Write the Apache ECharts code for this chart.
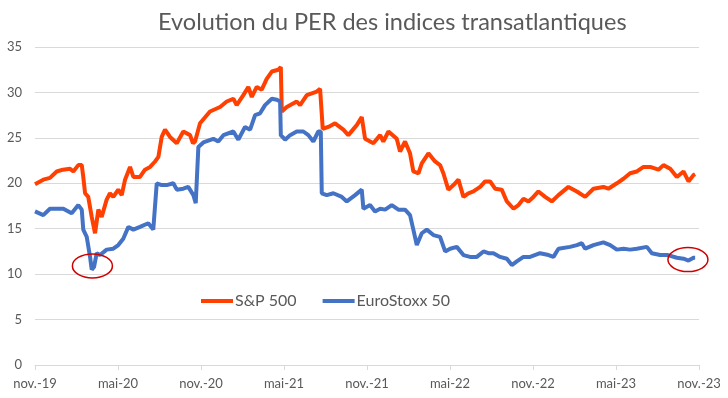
<!DOCTYPE html>
<html>
<head>
<meta charset="utf-8">
<script src="https://cdn.jsdelivr.net/npm/echarts@6/dist/echarts.min.js"></script>
<style>html,body{margin:0;padding:0;background:#fff}#c{width:728px;height:398px}</style>
</head>
<body>
<div id="c"></div>
<script>
// x tick labels every 6 months (x = months since 1 Nov 2019)
var xTickLabels = ['nov.-19','mai-20','nov.-20','mai-21','nov.-21','mai-22','nov.-22','mai-23','nov.-23'];

var spxMonths = [0.00,0.60,1.08,1.57,2.02,2.53,2.77,3.13,3.38,3.49,3.62,3.85,4.10,4.34,4.58,4.82,5.18,5.42,5.66,6.02,6.27,6.51,6.87,7.11,7.59,7.95,8.32,8.68,8.92,9.16,9.40,9.76,10.25,10.72,11.21,11.42,11.57,11.93,12.65,13.38,13.86,14.34,14.58,15.06,15.42,15.67,16.03,16.39,16.75,17.12,17.59,17.77,17.84,18.20,18.92,19.16,19.65,20.01,20.37,20.61,20.80,21.21,21.69,22.29,22.65,23.26,23.62,23.86,24.46,24.95,25.18,25.55,26.15,26.39,26.75,27.11,27.35,27.72,27.96,28.44,28.92,29.28,29.52,29.88,30.25,30.61,30.97,31.33,31.69,32.18,32.54,32.90,33.26,33.74,34.11,34.59,34.95,35.31,35.67,36.03,36.39,36.88,37.36,37.84,38.56,39.17,39.77,40.37,41.09,41.45,42.06,42.54,43.02,43.51,43.99,44.47,45.07,45.43,45.92,46.40,46.88,47.24,47.60,47.72];
var spxValues = [19.9,20.4,20.6,21.3,21.5,21.6,21.3,22.0,22.0,20.7,18.9,18.5,16.3,14.5,17.1,16.3,18.2,18.9,18.5,19.3,18.7,20.4,21.8,20.7,20.7,21.5,21.8,22.4,22.9,25.1,25.9,25.1,24.4,25.7,25.3,24.4,24.6,26.6,27.9,28.4,29.0,29.3,28.6,29.7,30.6,29.5,30.6,30.3,31.5,32.3,32.5,32.8,27.9,28.4,29.0,28.6,29.7,29.9,30.1,30.4,26.0,26.2,26.6,25.9,25.3,26.4,27.3,24.9,24.4,25.3,24.6,25.7,24.9,23.5,24.6,23.3,21.3,21.1,22.2,23.3,22.4,22.0,21.1,19.3,19.8,20.4,18.5,18.9,19.1,19.6,20.2,20.2,19.4,19.3,18.0,17.2,17.6,18.3,18.0,18.5,19.1,18.5,18.0,18.7,19.6,19.1,18.5,19.4,19.6,19.4,20.0,20.5,21.1,21.3,21.8,21.8,21.5,22.0,21.6,20.7,21.3,20.2,20.9,21.0];

var stoxxMonths = [0.00,0.60,1.08,2.05,2.65,3.13,3.38,3.49,3.74,3.98,4.10,4.27,4.46,4.70,5.18,5.66,6.02,6.38,6.75,7.11,7.59,8.19,8.55,8.80,9.16,9.52,10.00,10.25,10.72,11.08,11.45,11.62,11.81,12.17,12.89,13.25,13.62,14.34,14.70,15.18,15.55,15.91,16.27,16.63,17.12,17.48,17.72,17.77,18.08,18.44,18.92,19.40,19.76,20.12,20.48,20.66,20.73,21.09,21.57,22.18,22.54,23.14,23.62,23.74,24.22,24.58,24.95,25.31,25.79,26.27,26.75,27.11,27.35,27.60,27.96,28.32,28.80,29.28,29.65,30.01,30.49,30.97,31.45,31.94,32.42,32.78,33.14,33.62,34.11,34.47,34.83,35.31,35.79,36.51,37.12,37.48,37.84,38.68,39.17,39.53,39.77,40.37,41.09,41.58,42.06,42.54,43.02,43.51,44.23,44.59,45.19,45.75,46.40,46.88,47.24,47.60,47.72];
var stoxxValues = [16.9,16.5,17.2,17.2,16.7,17.6,17.1,14.9,14.1,11.9,10.5,10.8,12.3,12.1,12.7,12.8,13.2,13.9,15.2,14.9,15.2,15.6,14.9,20.0,19.8,19.8,20.0,19.3,19.4,19.6,18.7,17.8,24.0,24.5,24.9,24.6,25.3,25.7,24.8,26.2,25.9,27.5,27.7,28.6,29.3,29.2,29.0,25.3,24.8,25.3,25.7,25.7,25.3,24.6,25.7,25.7,18.9,18.7,18.9,18.5,18.0,18.7,19.3,17.2,17.6,16.9,17.2,17.1,17.6,17.1,17.1,16.5,14.9,13.2,14.5,14.9,14.3,14.1,12.5,12.8,13.0,12.1,11.9,11.9,12.5,12.3,12.3,11.9,11.7,11.0,11.4,11.9,11.9,12.3,12.1,11.9,12.8,13.0,13.2,13.4,12.8,13.2,13.5,13.2,12.7,12.8,12.7,12.8,13.0,12.3,12.1,12.1,11.8,11.7,11.5,11.8,11.8];

// annotation circles (data coords)
var circleCenters = [[4.15, 10.9], [47.2, 11.6]];

function pairs(xs, ys){ return xs.map(function(x,i){ return [x, ys[i]]; }); }

var txt = '#595959';
var chart = echarts.init(document.getElementById('c'));
chart.setOption({
  animation: false,
  backgroundColor: '#fff',
  title: {
    text: 'Evolution du PER des indices transatlantiques',
    left: 153, top: 5,
    textStyle: { fontFamily: 'Lato', fontSize: 23.5, fontWeight: 'normal', color: txt }
  },
  legend: {
    left: 196, top: 288,
    icon: 'rect', itemWidth: 32, itemHeight: 4, itemGap: 26,
    textStyle: { fontFamily: 'Lato', fontSize: 16, color: txt, padding: [0,0,0,-3] },
    data: ['S&P 500', 'EuroStoxx 50']
  },
  grid: { left: 35, right: 29, top: 47, bottom: 33 },
  xAxis: {
    type: 'value', min: 0, max: 48, interval: 6,
    axisLine: { show: true, lineStyle: { color: '#D9D9D9' } },
    axisTick: { show: true, length: 5, lineStyle: { color: '#D9D9D9' } },
    splitLine: { show: false },
    axisLabel: {
      fontFamily: 'Lato', fontSize: 13, color: txt, margin: 12,
      formatter: function(v){ return xTickLabels[Math.round(v/6)]; }
    }
  },
  yAxis: {
    type: 'value', min: 0, max: 35, interval: 5,
    axisLine: { show: false }, axisTick: { show: false },
    splitLine: { lineStyle: { color: '#D9D9D9' } },
    axisLabel: { fontFamily: 'Lato', fontSize: 13, color: txt, margin: 13 }
  },
  series: [
    { name: 'S&P 500', type: 'line', data: pairs(spxMonths, spxValues), showSymbol: false,
      lineStyle: { width: 4, color: '#FF4000' }, itemStyle: { color: '#FF4000' } },
    { name: 'EuroStoxx 50', type: 'line', data: pairs(stoxxMonths, stoxxValues), showSymbol: false,
      lineStyle: { width: 4, color: '#4472C4' }, itemStyle: { color: '#4472C4' } }
  ]
});
var g = circleCenters.map(function(c){
  var p = chart.convertToPixel({gridIndex:0}, c);
  return { type: 'ellipse', shape: { cx: p[0], cy: p[1], rx: 20, ry: 12 },
           style: { fill: 'none', stroke: '#D00000', lineWidth: 1.5 }, z: 100 };
});
chart.setOption({ graphic: g });
</script>
</body>
</html>
